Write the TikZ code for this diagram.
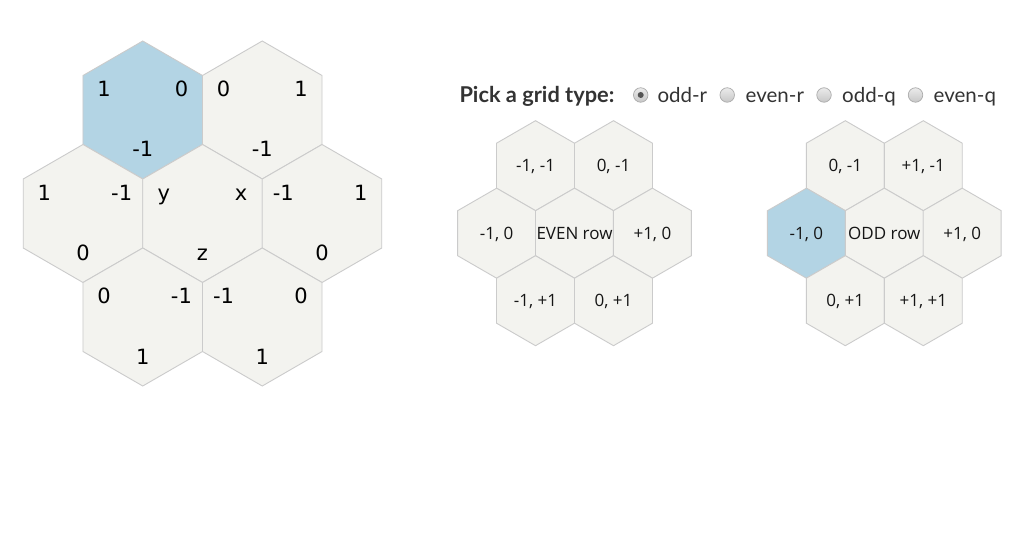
\documentclass[tikz,border=0pt]{standalone}
\usepackage{fontspec}
\usetikzlibrary{shapes.geometric}
\newfontfamily\numfont{DejaVu Sans}
\newfontfamily\cellfont{Open Sans}
\newfontfamily\headfont{Lato}
\definecolor{hexfill}{HTML}{F3F3EF}
\definecolor{hexline}{HTML}{CBCBCB}
\definecolor{hexblue}{HTML}{B3D4E4}
\definecolor{headtext}{HTML}{333333}
\definecolor{celltext}{HTML}{151515}
\definecolor{radioline}{HTML}{ABABAB}
\definecolor{radiodot}{HTML}{555555}
\tikzset{
  bighex/.style={regular polygon, regular polygon sides=6, shape border rotate=30,
    minimum size=138pt, inner sep=0pt, outer sep=0pt, draw=hexline, line width=0.9pt, fill=hexfill},
  smallhex/.style={regular polygon, regular polygon sides=6, shape border rotate=30,
    minimum size=90pt, inner sep=0pt, outer sep=0pt, draw=hexline, line width=0.9pt, fill=hexfill},
  celllbl/.style={inner sep=0pt, anchor=base, font=\cellfont\fontsize{17}{19}\selectfont, text=celltext},
  sel/.style={fill=hexblue},
  numlbl/.style={inner sep=0pt, anchor=base, font=\numfont\fontsize{21}{24}\selectfont, text=black},
  radio/.style={circle, minimum size=14.5pt, inner sep=0pt, draw=radioline, line width=0.7pt,
    top color=white!92!black, bottom color=white!78!black},
  radiodotstyle/.style={circle, minimum size=6pt, inner sep=0pt, fill=radiodot},
  radiolbl/.style={inner sep=0pt, anchor=base west, font=\headfont\fontsize{20.5}{24}\selectfont, text=headtext},
  headlbl/.style={inner sep=0pt, anchor=base west, font=\headfont\bfseries\fontsize{21.8}{25}\selectfont, text=headtext}
}
\begin{document}
\begin{tikzpicture}[x=1pt,y=-1pt]
\useasboundingbox[fill=white] (0,0) rectangle (1032,534);
% ---- left cube-coordinate cluster
\node[bighex,sel] (tl) at (142.75,110) {};
\node[bighex] (tr) at (262.25,110) {};
\node[bighex] (ml) at (83,213.5) {};
\node[bighex] (mc) at (202.5,213.5) {};
\node[bighex] (mr) at (322,213.5) {};
\node[bighex] (bl) at (142.75,317) {};
\node[bighex] (br) at (262.25,317) {};
% labels: upper-left, upper-right, bottom
\node[numlbl] (tl-a) at ([shift={(-38.7,-13.3)}]tl.center) {1};
\node[numlbl] (tl-b) at ([shift={(38.7,-13.3)}]tl.center) {0};
\node[numlbl] (tl-c) at ([shift={(0,47)}]tl.center) {-1};
\node[numlbl] (tr-a) at ([shift={(-38.7,-13.3)}]tr.center) {0};
\node[numlbl] (tr-b) at ([shift={(38.7,-13.3)}]tr.center) {1};
\node[numlbl] (tr-c) at ([shift={(0,47)}]tr.center) {-1};
\node[numlbl] (ml-a) at ([shift={(-38.7,-13.3)}]ml.center) {1};
\node[numlbl] (ml-b) at ([shift={(38.7,-13.3)}]ml.center) {-1};
\node[numlbl] (ml-c) at ([shift={(0,47)}]ml.center) {0};
\node[numlbl] (mc-a) at ([shift={(-38.7,-13.3)}]mc.center) {y};
\node[numlbl] (mc-b) at ([shift={(38.7,-13.3)}]mc.center) {x};
\node[numlbl] (mc-c) at ([shift={(0,47)}]mc.center) {z};
\node[numlbl] (mr-a) at ([shift={(-38.7,-13.3)}]mr.center) {-1};
\node[numlbl] (mr-b) at ([shift={(38.7,-13.3)}]mr.center) {1};
\node[numlbl] (mr-c) at ([shift={(0,47)}]mr.center) {0};
\node[numlbl] (bl-a) at ([shift={(-38.7,-13.3)}]bl.center) {0};
\node[numlbl] (bl-b) at ([shift={(38.7,-13.3)}]bl.center) {-1};
\node[numlbl] (bl-c) at ([shift={(0,47)}]bl.center) {1};
\node[numlbl] (br-a) at ([shift={(-38.7,-13.3)}]br.center) {-1};
\node[numlbl] (br-b) at ([shift={(38.7,-13.3)}]br.center) {0};
\node[numlbl] (br-c) at ([shift={(0,47)}]br.center) {1};
% ---- header with radio buttons
\node[headlbl] (head) at (459.3,102.7) {Pick a grid type:};
\node[radio] (r1) at (640.7,95) {};
\node[radiodotstyle] (r1dot) at (r1.center) {};
\node[radiolbl] (l1) at (657.3,102.7) {odd-r};
\node[radio] (r2) at (727.2,95) {};
\node[radiolbl] (l2) at (745.5,102.7) {even-r};
\node[radio] (r3) at (824,95) {};
\node[radiolbl] (l3) at (842,102.7) {odd-q};
\node[radio] (r4) at (915.5,95) {};
\node[radiolbl] (l4) at (933.5,102.7) {even-q};
% ---- EVEN row cluster
\node[smallhex] (e1) at (535.5,165.7) {};
\node[smallhex] (e2) at (613.5,165.7) {};
\node[smallhex] (e3) at (496.6,233.2) {};
\node[smallhex] (e4) at (574.5,233.2) {};
\node[smallhex] (e5) at (652.4,233.2) {};
\node[smallhex] (e6) at (535.5,300.7) {};
\node[smallhex] (e7) at (613.5,300.7) {};
\node[celllbl] (e1t) at ([yshift=-6.2pt]e1.center) {-1, -1};
\node[celllbl] (e2t) at ([yshift=-6.2pt]e2.center) {0, -1};
\node[celllbl] (e3t) at ([yshift=-6.2pt]e3.center) {-1, 0};
\node[celllbl] (e4t) at ([yshift=-6.2pt]e4.center) {EVEN row};
\node[celllbl] (e5t) at ([yshift=-6.2pt]e5.center) {+1, 0};
\node[celllbl] (e6t) at ([yshift=-6.2pt]e6.center) {-1, +1};
\node[celllbl] (e7t) at ([yshift=-6.2pt]e7.center) {0, +1};
% ---- ODD row cluster
\node[smallhex] (o1) at (845.3,165.7) {};
\node[smallhex] (o2) at (923.3,165.7) {};
\node[smallhex,sel] (o3) at (806.4,233.2) {};
\node[smallhex] (o4) at (884.3,233.2) {};
\node[smallhex] (o5) at (962.2,233.2) {};
\node[smallhex] (o6) at (845.3,300.7) {};
\node[smallhex] (o7) at (923.3,300.7) {};
\node[celllbl] (o1t) at ([yshift=-6.2pt]o1.center) {0, -1};
\node[celllbl] (o2t) at ([yshift=-6.2pt]o2.center) {+1, -1};
\node[celllbl] (o3t) at ([yshift=-6.2pt]o3.center) {-1, 0};
\node[celllbl] (o4t) at ([yshift=-6.2pt]o4.center) {ODD row};
\node[celllbl] (o5t) at ([yshift=-6.2pt]o5.center) {+1, 0};
\node[celllbl] (o6t) at ([yshift=-6.2pt]o6.center) {0, +1};
\node[celllbl] (o7t) at ([yshift=-6.2pt]o7.center) {+1, +1};
\end{tikzpicture}
\end{document}
